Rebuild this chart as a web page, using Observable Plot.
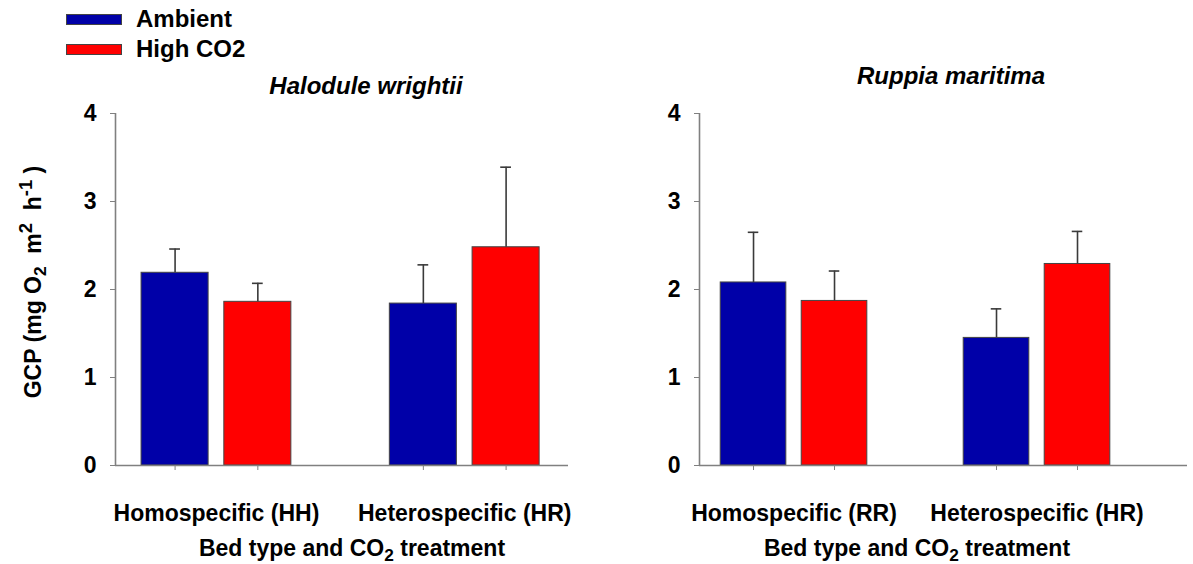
<!DOCTYPE html>
<html>
<head>
<meta charset="utf-8">
<script src="https://cdn.jsdelivr.net/npm/d3@7"></script>
<script src="https://cdn.jsdelivr.net/npm/@observablehq/plot@0.6"></script>
<style>
  body { margin: 0; background: #fff; }
  #chart { position: relative; width: 1193px; height: 564px; font-family: "Liberation Sans", Arial, sans-serif; font-weight: bold; color: #000; overflow: hidden; }
  .abs { position: absolute; white-space: nowrap; line-height: 1; }
  .sw { position: absolute; box-sizing: border-box; border: 1px solid #444; }
  .sub { position: relative; top: 0.3em; font-size: 0.75em; }
  .sup { position: relative; top: -0.5em; font-size: 0.8em; }
</style>
</head>
<body>
<div id="chart"></div>
<script>
// ---- data ----
const species = ["Halodule wrightii", "Ruppia maritima"];
const treatments = ["Ambient", "High CO2"];
const treatmentColors = ["#0000A8", "#FF0000"];
const bedTypesHalodule = ["Homospecific (HH)", "Heterospecific (HR)"];
const bedTypesRuppia = ["Homospecific (RR)", "Heterospecific (HR)"];
// order: [bed1 Ambient, bed1 High CO2, bed2 Ambient, bed2 High CO2]
const haloduleMean = [2.19, 1.86, 1.84, 2.48];
const haloduleSE   = [0.27, 0.21, 0.44, 0.91];
const ruppiaMean   = [2.08, 1.87, 1.45, 2.29];
const ruppiaSE     = [0.57, 0.34, 0.33, 0.37];
const yTicks = [0, 1, 2, 3, 4];

const chart = document.getElementById("chart");
const FONT = '"Liberation Sans", Arial, sans-serif';

function buildRows(bedTypes, means, ses) {
  const rows = [];
  bedTypes.forEach((bed, g) => {
    treatments.forEach((tr, t) => {
      const i = g * treatments.length + t;
      rows.push({bed, treatment: tr, pos: g * 3 + t + 1, mean: means[i], se: ses[i]});
    });
  });
  return rows;
}

function panel({bedTypes, means, ses, left, width, marginLeft, marginRight, xDomain}) {
  const rows = buildRows(bedTypes, means, ses);
  const half = 0.405, cap = 0.065;
  const groupCenters = bedTypes.map((b, g) => g * 3 + 1.5);
  const axisColor = "#808080";
  const p = Plot.plot({
    width, height: 564,
    marginLeft, marginRight, marginTop: 113, marginBottom: 99,
    style: {fontFamily: FONT, fontWeight: "bold", fontSize: "23px", background: "transparent", overflow: "visible"},
    x: {domain: xDomain, axis: null},
    y: {domain: [0, 4], axis: null},
    color: {domain: treatments, range: treatmentColors},
    marks: [
      Plot.rectY(rows, {x1: d => d.pos - half, x2: d => d.pos + half, y1: 0, y2: "mean", fill: "treatment", stroke: "#444", strokeWidth: 1}),
      Plot.ruleX(rows, {x: "pos", y1: "mean", y2: d => d.mean + d.se, stroke: "#3a3a3a", strokeWidth: 1.6}),
      Plot.ruleY(rows, {y: d => d.mean + d.se, x1: d => d.pos - cap, x2: d => d.pos + cap, stroke: "#3a3a3a", strokeWidth: 1.6}),
      Plot.ruleX([xDomain[0]], {stroke: axisColor, strokeWidth: 1.6}),
      Plot.ruleY([0], {stroke: axisColor, strokeWidth: 1.6}),
      Plot.axisY({ticks: yTicks, tickSize: 5, tickPadding: 14, tickFormat: d => String(d), stroke: axisColor, fill: "#000", fontSize: 23, fontWeight: "bold", label: null}),
      Plot.axisX({ticks: rows.map(d => d.pos), tickSize: 5, tickFormat: () => "", stroke: axisColor, label: null}),
      Plot.axisX({ticks: groupCenters, tickSize: 0, tickPadding: 39, tickFormat: d => bedTypes[Math.floor(d / 3)], fill: "#000", fontSize: 23, fontWeight: "bold", label: null})
    ]
  });
  const wrap = document.createElement("div");
  wrap.style.position = "absolute";
  wrap.style.left = left + "px";
  wrap.style.top = "0px";
  wrap.appendChild(p);
  chart.appendChild(wrap);
}

panel({bedTypes: bedTypesHalodule, means: haloduleMean, ses: haloduleSE, left: 0, width: 596, marginLeft: 115, marginRight: 28, xDomain: [0.28, 5.754]});
panel({bedTypes: bedTypesRuppia, means: ruppiaMean, ses: ruppiaSE, left: 596, width: 597, marginLeft: 103, marginRight: 6, xDomain: [0.333, 6.358]});

// ---- text and legend ----
function addText(html, style) {
  const d = document.createElement("div");
  d.className = "abs";
  d.innerHTML = html;
  Object.assign(d.style, style);
  chart.appendChild(d);
  return d;
}
// legend
treatments.forEach((t, i) => {
  const s = document.createElement("div");
  s.className = "sw";
  Object.assign(s.style, {left: "66px", top: (14 + i * 30) + "px", width: "56px", height: "11px", background: treatmentColors[i]});
  chart.appendChild(s);
  addText(t, {left: "136px", top: (7 + i * 30) + "px", fontSize: "24px"});
});
// panel titles
addText(species[0], {left: "366px", top: "74px", fontSize: "24px", fontStyle: "italic", transform: "translateX(-50%)"});
addText(species[1], {left: "951px", top: "64px", fontSize: "24px", fontStyle: "italic", transform: "translateX(-50%)"});
// x-axis titles
const xTitle = 'Bed type and CO<span class="sub">2</span> treatment';
addText(xTitle, {left: "352px", top: "537px", fontSize: "23px", transform: "translateX(-50%)"});
addText(xTitle, {left: "917px", top: "537px", fontSize: "23px", transform: "translateX(-50%)"});
// y-axis title
addText('GCP (mg O<span class="sub">2</span>&nbsp; m<span class="sup">2</span>&nbsp; h<span class="sup">-1</span> )',
  {left: "33px", top: "282px", fontSize: "23px", transform: "translate(-50%, -50%) rotate(-90deg)"});
</script>
</body>
</html>
